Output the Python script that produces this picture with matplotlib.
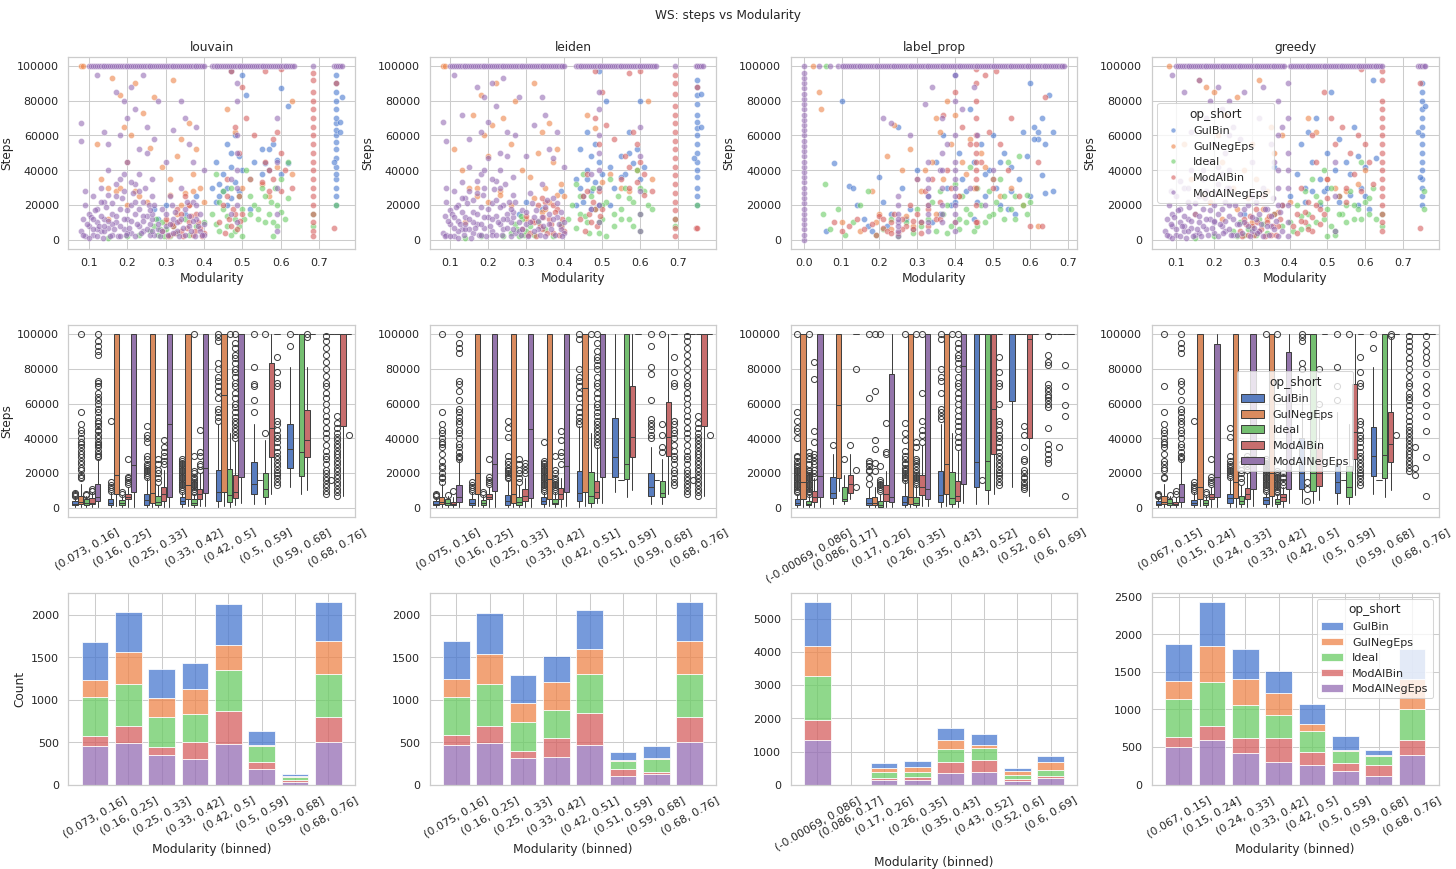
import numpy as np
import matplotlib
matplotlib.use("Agg")
import matplotlib.pyplot as plt
import seaborn as sns
from matplotlib.patches import Patch
from matplotlib.lines import Line2D

ops = ["GulBin", "GulNegEps", "Ideal", "ModAlBin", "ModAlNegEps"]
algos = ["louvain", "leiden", "label_prop", "greedy"]
STEP_CAP = 100  # thousands of steps

# ---------------- row 1: scatter points (x = modularity, y = steps / 1000)
louvain_pts = {
    "GulBin": [(0.42, 30), (0.43, 45), (0.44, 25), (0.45, 38), (0.46, 55), (0.46, 20), (0.47, 50), (0.47, 42),
               (0.48, 33), (0.48, 60), (0.49, 48), (0.49, 28), (0.50, 40), (0.51, 83), (0.52, 35), (0.53, 45),
               (0.55, 52), (0.56, 44), (0.57, 40), (0.58, 55), (0.59, 46), (0.60, 38), (0.60, 87), (0.62, 77),
               (0.62, 44), (0.27, 18), (0.28, 12), (0.35, 15), (0.38, 25), (0.30, 20), (0.745, 20), (0.745, 25),
               (0.745, 30), (0.745, 35), (0.745, 38), (0.745, 42), (0.745, 47), (0.745, 52), (0.745, 56),
               (0.745, 60), (0.745, 63), (0.745, 67), (0.745, 70), (0.745, 75), (0.745, 80), (0.745, 85),
               (0.745, 90), (0.745, 95), (0.755, 62), (0.755, 68), (0.74, 45), (0.76, 82), (0.50, 95), (0.47, 97),
               (0.44, 32), (0.45, 28), (0.43, 22), (0.46, 30), (0.47, 24), (0.52, 18), (0.55, 38), (0.57, 52)],
    "GulNegEps": [(0.08, 100), (0.085, 100), (0.12, 55), (0.13, 35), (0.15, 30), (0.16, 93), (0.17, 28), (0.18, 83),
                  (0.19, 65), (0.20, 45), (0.21, 60), (0.22, 90), (0.23, 25), (0.24, 73), (0.26, 53), (0.27, 82),
                  (0.29, 42), (0.31, 35), (0.32, 92), (0.33, 48), (0.34, 58), (0.35, 27), (0.36, 67), (0.37, 38),
                  (0.38, 52), (0.40, 22), (0.46, 75), (0.48, 62), (0.50, 30), (0.52, 35), (0.55, 32), (0.57, 25),
                  (0.59, 42), (0.63, 38), (0.63, 80), (0.30, 10), (0.33, 15), (0.36, 20), (0.20, 20), (0.15, 12),
                  (0.18, 30), (0.22, 28), (0.25, 22), (0.31, 26), (0.34, 20), (0.37, 28), (0.39, 30)],
    "Ideal": [(0.26, 5), (0.27, 8), (0.28, 3), (0.29, 10), (0.30, 6), (0.31, 2), (0.32, 8), (0.33, 4), (0.35, 12),
              (0.36, 3), (0.38, 8), (0.40, 10), (0.42, 15), (0.43, 38), (0.44, 22), (0.45, 18), (0.46, 8),
              (0.47, 30), (0.48, 12), (0.49, 25), (0.50, 18), (0.51, 40), (0.52, 15), (0.53, 20), (0.54, 12),
              (0.55, 30), (0.56, 25), (0.57, 15), (0.58, 10), (0.59, 20), (0.60, 35), (0.61, 12), (0.62, 45),
              (0.685, 8), (0.685, 15), (0.745, 20), (0.20, 2), (0.15, 1), (0.23, 3), (0.48, 5), (0.50, 2), (0.58, 2),
              (0.275, 12), (0.285, 6), (0.295, 2), (0.43, 9), (0.44, 5), (0.45, 28), (0.46, 14), (0.47, 3),
              (0.49, 8), (0.505, 12), (0.52, 25), (0.54, 18), (0.56, 10), (0.575, 22), (0.59, 8), (0.60, 16),
              (0.62, 24), (0.585, 30)],
    "ModAlBin": [(0.29, 5), (0.30, 12), (0.31, 3), (0.32, 8), (0.33, 18), (0.34, 5), (0.35, 25), (0.36, 10),
                 (0.37, 3), (0.38, 15), (0.39, 7), (0.40, 4), (0.44, 10), (0.45, 20), (0.46, 35), (0.47, 8),
                 (0.48, 65), (0.48, 15), (0.49, 50), (0.49, 25), (0.50, 88), (0.51, 70), (0.53, 60), (0.55, 33),
                 (0.56, 45), (0.57, 28), (0.58, 58), (0.59, 62), (0.60, 50), (0.61, 40), (0.63, 30), (0.685, 5),
                 (0.685, 10), (0.685, 15), (0.685, 20), (0.685, 25), (0.685, 30), (0.685, 35), (0.685, 40),
                 (0.685, 45), (0.685, 50), (0.685, 55), (0.685, 60), (0.685, 65), (0.685, 70), (0.685, 75),
                 (0.685, 80), (0.685, 92), (0.685, 96), (0.74, 7), (0.745, 90), (0.60, 98), (0.56, 97), (0.47, 97),
                 (0.305, 2), (0.315, 9), (0.325, 4), (0.335, 11), (0.345, 2), (0.355, 7), (0.365, 14), (0.375, 5),
                 (0.385, 10), (0.395, 2), (0.34, 15), (0.36, 20), (0.455, 4), (0.465, 12), (0.475, 18),
                 (0.485, 6), (0.495, 11), (0.46, 25), (0.50, 15), (0.57, 40), (0.58, 35), (0.60, 28),
                 (0.685, 85), (0.685, 2)],
    "ModAlNegEps": [(0.08, 5), (0.085, 12), (0.09, 2), (0.09, 20), (0.10, 8), (0.10, 15), (0.11, 3), (0.11, 25),
                    (0.12, 10), (0.12, 18), (0.13, 5), (0.13, 30), (0.14, 12), (0.14, 22), (0.15, 7), (0.15, 40),
                    (0.16, 15), (0.16, 3), (0.17, 25), (0.17, 10), (0.18, 35), (0.18, 18), (0.19, 6), (0.19, 28),
                    (0.20, 12), (0.20, 45), (0.21, 20), (0.21, 4), (0.22, 32), (0.22, 15), (0.23, 8), (0.23, 38),
                    (0.24, 22), (0.24, 5), (0.25, 14), (0.25, 50), (0.26, 9), (0.27, 3), (0.29, 18), (0.30, 8),
                    (0.31, 25), (0.32, 12), (0.33, 5), (0.34, 30), (0.35, 18), (0.36, 8), (0.37, 22), (0.38, 12),
                    (0.39, 5), (0.40, 3), (0.08, 67), (0.08, 57), (0.12, 95), (0.14, 62), (0.15, 55), (0.17, 85),
                    (0.18, 60), (0.19, 80), (0.20, 70), (0.21, 88), (0.22, 75), (0.23, 52), (0.24, 95), (0.25, 65),
                    (0.27, 58), (0.28, 80), (0.30, 45), (0.32, 63), (0.34, 80), (0.35, 70), (0.36, 55), (0.37, 45),
                    (0.38, 65), (0.40, 40), (0.485, 10), (0.485, 20), (0.485, 30), (0.485, 40), (0.485, 50),
                    (0.485, 60), (0.485, 80), (0.485, 90), (0.47, 15), (0.47, 35), (0.59, 5), (0.59, 15),
                    (0.59, 30), (0.59, 45), (0.59, 70), (0.12, 6), (0.16, 9), (0.2, 4), (0.24, 14), (0.28, 6),
                    (0.085, 3), (0.095, 9), (0.10, 1), (0.105, 13), (0.11, 6), (0.115, 17), (0.12, 2), (0.125, 8),
                    (0.13, 14), (0.135, 1), (0.14, 5), (0.145, 19), (0.15, 11), (0.155, 2), (0.16, 21), (0.165, 6),
                    (0.17, 14), (0.175, 2), (0.18, 8), (0.185, 24), (0.19, 12), (0.195, 3), (0.20, 17), (0.205, 7),
                    (0.21, 11), (0.215, 27), (0.22, 2), (0.225, 9), (0.23, 18), (0.235, 4), (0.24, 11), (0.245, 30),
                    (0.25, 6), (0.255, 20), (0.26, 3), (0.265, 12), (0.28, 9), (0.285, 2), (0.29, 5), (0.30, 15),
                    (0.305, 3), (0.31, 9), (0.315, 20), (0.32, 4), (0.325, 16), (0.33, 10), (0.335, 2), (0.34, 12),
                    (0.345, 7), (0.35, 3), (0.355, 22), (0.36, 14), (0.365, 5), (0.37, 11), (0.375, 2), (0.38, 20),
                    (0.385, 8), (0.39, 15), (0.395, 3), (0.40, 9), (0.09, 28), (0.13, 22), (0.17, 32), (0.19, 38),
                    (0.21, 33), (0.23, 28), (0.15, 26), (0.27, 20), (0.265, 5), (0.265, 15), (0.265, 25),
                    (0.265, 35), (0.11, 12), (0.14, 8), (0.18, 2), (0.22, 22), (0.26, 17)],
}
louvain_cap = [0.100, 0.105, 0.110, 0.115, 0.120, 0.125, 0.130, 0.135, 0.140, 0.145, 0.150, 0.155, 0.160, 0.165,
               0.170, 0.175, 0.180, 0.185, 0.190, 0.195, 0.200, 0.205, 0.210, 0.215, 0.220, 0.225, 0.230, 0.235,
               0.240, 0.245, 0.250, 0.255, 0.260, 0.265, 0.270, 0.275, 0.280, 0.285, 0.290, 0.295, 0.300, 0.305,
               0.310, 0.315, 0.320, 0.325, 0.330, 0.335, 0.340, 0.345, 0.350, 0.355, 0.360, 0.365, 0.370, 0.375,
               0.380, 0.385, 0.390, 0.395, 0.400, 0.420, 0.425, 0.430, 0.435, 0.440, 0.445, 0.450, 0.455, 0.460,
               0.465, 0.470, 0.475, 0.480, 0.485, 0.490, 0.495, 0.500, 0.505, 0.510, 0.515, 0.520, 0.525, 0.530,
               0.535, 0.540, 0.545, 0.550, 0.555, 0.560, 0.565, 0.570, 0.575, 0.580, 0.585, 0.590, 0.595, 0.600,
               0.605, 0.610, 0.615, 0.620, 0.625, 0.630, 0.635, 0.685, 0.740, 0.745, 0.750, 0.755, 0.760]

leiden_pts = {
    "GulBin": [(0.43, 35), (0.44, 52), (0.45, 25), (0.46, 40), (0.46, 62), (0.47, 28), (0.47, 48), (0.48, 55),
               (0.48, 33), (0.49, 45), (0.49, 20), (0.50, 38), (0.51, 80), (0.52, 42), (0.53, 30), (0.55, 48),
               (0.56, 38), (0.57, 62), (0.58, 44), (0.59, 52), (0.60, 35), (0.60, 80), (0.61, 42), (0.28, 15),
               (0.30, 22), (0.34, 18), (0.39, 28), (0.75, 20), (0.75, 25), (0.75, 30), (0.75, 36), (0.75, 40),
               (0.75, 45), (0.75, 50), (0.75, 55), (0.75, 60), (0.75, 64), (0.75, 68), (0.75, 72), (0.75, 78),
               (0.75, 83), (0.75, 88), (0.75, 92), (0.76, 65), (0.74, 47), (0.76, 84), (0.49, 97),
               (0.44, 30), (0.45, 22), (0.46, 35), (0.47, 18), (0.52, 20), (0.55, 36), (0.57, 50), (0.43, 20)],
    "GulNegEps": [(0.08, 100), (0.085, 100), (0.11, 52), (0.13, 40), (0.15, 30), (0.16, 72), (0.17, 25), (0.18, 83),
                  (0.19, 60), (0.20, 48), (0.21, 66), (0.22, 90), (0.23, 28), (0.24, 70), (0.26, 55), (0.27, 80),
                  (0.29, 40), (0.31, 36), (0.32, 90), (0.33, 50), (0.34, 62), (0.35, 30), (0.36, 67), (0.37, 45),
                  (0.38, 52), (0.40, 25), (0.46, 72), (0.48, 64), (0.50, 33), (0.52, 38), (0.55, 30), (0.57, 28),
                  (0.59, 40), (0.63, 35), (0.62, 80), (0.30, 12), (0.34, 16), (0.36, 22), (0.20, 22), (0.14, 10),
                  (0.17, 30), (0.23, 26), (0.26, 20), (0.32, 24), (0.35, 18), (0.38, 26), (0.39, 32)],
    "Ideal": [(0.26, 4), (0.27, 9), (0.28, 2), (0.29, 12), (0.30, 5), (0.31, 8), (0.32, 3), (0.33, 10), (0.35, 6),
              (0.37, 2), (0.39, 9), (0.41, 12), (0.42, 20), (0.43, 32), (0.44, 15), (0.45, 38), (0.46, 10),
              (0.47, 25), (0.48, 18), (0.49, 30), (0.50, 12), (0.51, 22), (0.52, 35), (0.53, 15), (0.54, 25),
              (0.55, 18), (0.56, 30), (0.57, 12), (0.58, 22), (0.59, 40), (0.60, 15), (0.61, 28), (0.62, 20),
              (0.69, 8), (0.69, 12), (0.75, 20), (0.18, 2), (0.14, 1), (0.24, 2), (0.49, 4), (0.51, 2), (0.60, 5),
              (0.275, 6), (0.285, 14), (0.295, 3), (0.43, 7), (0.44, 25), (0.455, 14), (0.465, 4), (0.475, 30),
              (0.49, 10), (0.50, 20), (0.53, 8), (0.55, 12), (0.57, 24), (0.58, 8), (0.60, 30), (0.63, 18)],
    "ModAlBin": [(0.29, 6), (0.30, 14), (0.31, 4), (0.32, 10), (0.33, 20), (0.34, 6), (0.35, 22), (0.36, 12),
                 (0.37, 4), (0.38, 18), (0.39, 8), (0.40, 5), (0.44, 12), (0.45, 25), (0.46, 38), (0.47, 10),
                 (0.48, 70), (0.48, 18), (0.49, 55), (0.49, 28), (0.50, 85), (0.51, 66), (0.53, 58), (0.55, 35),
                 (0.56, 48), (0.57, 30), (0.58, 62), (0.59, 55), (0.60, 45), (0.61, 38), (0.63, 28), (0.69, 7),
                 (0.69, 12), (0.69, 17), (0.69, 22), (0.69, 27), (0.69, 32), (0.69, 37), (0.69, 42), (0.69, 47),
                 (0.69, 52), (0.69, 57), (0.69, 62), (0.69, 67), (0.69, 72), (0.69, 77), (0.69, 90), (0.69, 95),
                 (0.745, 7), (0.75, 7), (0.75, 88), (0.60, 97), (0.57, 96), (0.48, 97),
                 (0.305, 3), (0.315, 11), (0.325, 2), (0.335, 8), (0.345, 13), (0.355, 4), (0.365, 9), (0.375, 16),
                 (0.385, 3), (0.395, 12), (0.34, 24), (0.37, 20), (0.455, 5), (0.465, 15), (0.475, 22),
                 (0.485, 8), (0.495, 14), (0.46, 28), (0.50, 18), (0.57, 42), (0.59, 33), (0.61, 26),
                 (0.69, 84), (0.69, 2)],
    "ModAlNegEps": [(0.08, 4), (0.085, 14), (0.09, 3), (0.09, 22), (0.10, 9), (0.10, 17), (0.11, 2), (0.11, 28),
                    (0.12, 11), (0.12, 20), (0.13, 6), (0.13, 33), (0.14, 13), (0.14, 24), (0.15, 6), (0.15, 42),
                    (0.16, 16), (0.16, 4), (0.17, 27), (0.17, 9), (0.18, 38), (0.18, 19), (0.19, 7), (0.19, 30),
                    (0.20, 13), (0.20, 47), (0.21, 21), (0.21, 5), (0.22, 34), (0.22, 14), (0.23, 9), (0.23, 40),
                    (0.24, 20), (0.24, 6), (0.25, 15), (0.25, 48), (0.26, 10), (0.27, 4), (0.29, 17), (0.30, 9),
                    (0.31, 27), (0.32, 13), (0.33, 6), (0.34, 32), (0.35, 19), (0.36, 9), (0.37, 24), (0.38, 13),
                    (0.39, 6), (0.40, 4), (0.08, 68), (0.09, 57), (0.11, 95), (0.13, 72), (0.15, 58), (0.17, 88),
                    (0.18, 62), (0.19, 82), (0.20, 68), (0.21, 90), (0.22, 77), (0.23, 50), (0.24, 93), (0.25, 62),
                    (0.27, 60), (0.28, 82), (0.30, 48), (0.32, 66), (0.34, 82), (0.35, 72), (0.36, 52), (0.37, 47),
                    (0.38, 62), (0.40, 42), (0.49, 10), (0.49, 20), (0.49, 30), (0.49, 40), (0.49, 50), (0.49, 60),
                    (0.49, 75), (0.49, 85), (0.47, 18), (0.47, 38), (0.60, 5), (0.60, 15), (0.60, 28), (0.60, 48),
                    (0.60, 65), (0.12, 5), (0.16, 10), (0.21, 3), (0.25, 12), (0.28, 5),
                    (0.085, 2), (0.095, 11), (0.10, 2), (0.105, 15), (0.11, 7), (0.115, 19), (0.12, 1), (0.125, 9),
                    (0.13, 16), (0.135, 3), (0.14, 6), (0.145, 21), (0.15, 12), (0.155, 1), (0.16, 23), (0.165, 7),
                    (0.17, 15), (0.175, 3), (0.18, 9), (0.185, 26), (0.19, 13), (0.195, 2), (0.20, 18), (0.205, 8),
                    (0.21, 12), (0.215, 29), (0.22, 3), (0.225, 10), (0.23, 19), (0.235, 3), (0.24, 12), (0.245, 32),
                    (0.25, 7), (0.255, 22), (0.26, 2), (0.265, 13), (0.28, 10), (0.285, 3), (0.29, 6), (0.30, 16),
                    (0.305, 2), (0.31, 10), (0.315, 21), (0.32, 5), (0.325, 17), (0.33, 11), (0.335, 3), (0.34, 13),
                    (0.345, 8), (0.35, 2), (0.355, 23), (0.36, 15), (0.365, 6), (0.37, 12), (0.375, 3), (0.38, 21),
                    (0.385, 9), (0.39, 16), (0.395, 2), (0.40, 10), (0.09, 30), (0.13, 24), (0.17, 34), (0.19, 40),
                    (0.21, 35), (0.23, 30), (0.15, 28), (0.27, 22), (0.265, 6), (0.265, 16), (0.265, 26),
                    (0.265, 36), (0.11, 13), (0.14, 9), (0.18, 3), (0.22, 23), (0.26, 18)],
}
leiden_cap = [0.100, 0.105, 0.110, 0.115, 0.120, 0.125, 0.130, 0.135, 0.140, 0.145, 0.150, 0.155, 0.160, 0.165,
              0.170, 0.175, 0.180, 0.185, 0.190, 0.195, 0.200, 0.205, 0.210, 0.215, 0.220, 0.225, 0.230, 0.235,
              0.240, 0.245, 0.250, 0.255, 0.260, 0.265, 0.270, 0.275, 0.280, 0.285, 0.290, 0.295, 0.300, 0.305,
              0.310, 0.315, 0.320, 0.325, 0.330, 0.335, 0.340, 0.345, 0.350, 0.355, 0.360, 0.365, 0.370, 0.375,
              0.380, 0.385, 0.390, 0.395, 0.400, 0.430, 0.435, 0.440, 0.445, 0.450, 0.455, 0.460, 0.465, 0.470,
              0.475, 0.480, 0.485, 0.490, 0.495, 0.500, 0.505, 0.510, 0.515, 0.520, 0.525, 0.530, 0.535, 0.540,
              0.545, 0.550, 0.555, 0.560, 0.565, 0.570, 0.575, 0.580, 0.585, 0.590, 0.595, 0.600, 0.605, 0.610,
              0.615, 0.620, 0.625, 0.630, 0.635, 0.640, 0.690, 0.745, 0.750, 0.755, 0.760, 0.765]

label_prop_pts = {
    "GulBin": [(0.06, 5), (0.08, 44), (0.10, 80), (0.12, 31), (0.14, 20), (0.16, 12), (0.18, 5), (0.20, 36),
               (0.22, 8), (0.23, 15), (0.25, 65), (0.26, 30), (0.28, 18), (0.30, 40), (0.31, 10), (0.33, 25),
               (0.35, 45), (0.36, 15), (0.37, 60), (0.38, 30), (0.39, 20), (0.40, 95), (0.41, 50), (0.42, 35),
               (0.43, 28), (0.44, 75), (0.45, 45), (0.46, 22), (0.47, 55), (0.48, 38), (0.49, 40), (0.50, 60),
               (0.51, 30), (0.52, 45), (0.53, 50), (0.54, 18), (0.55, 42), (0.56, 15), (0.57, 35), (0.58, 62),
               (0.59, 48), (0.60, 90), (0.61, 65), (0.62, 58), (0.63, 70), (0.64, 55), (0.65, 83), (0.66, 62),
               (0.64, 27), (0.60, 25), (0.63, 37), (0.66, 28), (0.62, 62), (0.61, 58),
               (0.13, 30), (0.17, 8), (0.21, 22), (0.27, 12), (0.29, 6), (0.34, 10), (0.40, 22), (0.45, 12),
               (0.48, 25), (0.50, 35), (0.52, 20), (0.55, 28)],
    "GulNegEps": [(0.04, 85), (0.045, 75), (0.10, 10), (0.15, 5), (0.18, 28), (0.20, 15), (0.22, 48), (0.24, 66),
                  (0.26, 40), (0.28, 52), (0.30, 35), (0.31, 28), (0.32, 40), (0.33, 20), (0.34, 45), (0.35, 70),
                  (0.36, 62), (0.37, 35), (0.38, 80), (0.39, 55), (0.40, 72), (0.41, 25), (0.42, 45), (0.43, 38),
                  (0.44, 58), (0.45, 30), (0.47, 50), (0.48, 42), (0.50, 35), (0.52, 25), (0.55, 30), (0.58, 20),
                  (0.62, 8), (0.025, 100), (0.35, 15), (0.40, 10), (0.19, 10), (0.23, 6), (0.27, 14), (0.29, 8)],
    "Ideal": [(0.05, 15), (0.055, 32), (0.07, 6), (0.09, 18), (0.11, 3), (0.13, 10), (0.15, 20), (0.17, 28),
              (0.19, 3), (0.21, 6), (0.23, 12), (0.25, 2), (0.27, 10), (0.29, 4), (0.30, 18), (0.31, 8), (0.33, 12),
              (0.34, 22), (0.35, 5), (0.36, 28), (0.37, 15), (0.38, 20), (0.39, 8), (0.40, 32), (0.41, 12),
              (0.42, 25), (0.43, 18), (0.44, 42), (0.45, 5), (0.46, 30), (0.47, 20), (0.48, 10), (0.49, 28),
              (0.50, 15), (0.51, 22), (0.52, 35), (0.53, 12), (0.54, 45), (0.55, 18), (0.56, 25), (0.57, 48),
              (0.58, 20), (0.59, 15), (0.60, 22), (0.06, 100), (0.38, 4), (0.41, 6), (0.43, 10), (0.44, 15),
              (0.46, 8), (0.49, 14), (0.52, 18), (0.53, 25), (0.56, 12), (0.59, 26)],
    "ModAlBin": [(0.08, 10), (0.10, 5), (0.12, 8), (0.14, 12), (0.16, 6), (0.18, 9), (0.19, 3), (0.20, 14),
                 (0.21, 7), (0.22, 5), (0.23, 10), (0.24, 15), (0.25, 4), (0.26, 12), (0.27, 8), (0.28, 20),
                 (0.29, 6), (0.30, 15), (0.31, 10), (0.32, 28), (0.33, 18), (0.34, 35), (0.35, 12), (0.36, 22),
                 (0.37, 72), (0.38, 40), (0.39, 30), (0.40, 85), (0.41, 25), (0.42, 65), (0.44, 55), (0.455, 20),
                 (0.455, 30), (0.455, 40), (0.455, 50), (0.455, 60), (0.455, 70), (0.455, 80), (0.455, 90),
                 (0.455, 98), (0.46, 10), (0.47, 45), (0.48, 95), (0.49, 62), (0.50, 30), (0.52, 55), (0.54, 40),
                 (0.55, 70), (0.57, 25), (0.60, 8), (0.63, 8), (0.62, 45), (0.64, 82), (0.51, 97),
                 (0.21, 12), (0.23, 4), (0.26, 6), (0.29, 11), (0.31, 4), (0.33, 8), (0.36, 12), (0.455, 10),
                 (0.455, 35), (0.455, 45), (0.455, 55)],
    "ModAlNegEps": [(0.0, 0), (0.0, 3), (0.0, 6), (0.0, 9), (0.0, 12), (0.0, 15), (0.0, 18), (0.0, 21), (0.0, 24),
                    (0.0, 27), (0.0, 30), (0.0, 33), (0.0, 36), (0.0, 39), (0.0, 42), (0.0, 45), (0.0, 48),
                    (0.0, 51), (0.0, 54), (0.0, 57), (0.0, 60), (0.0, 63), (0.0, 66), (0.0, 69), (0.0, 72),
                    (0.0, 75), (0.0, 78), (0.0, 81), (0.0, 84), (0.0, 87), (0.0, 90), (0.0, 93), (0.0, 96),
                    (0.21, 70), (0.23, 67), (0.25, 2), (0.25, 5), (0.25, 10), (0.25, 15), (0.25, 20), (0.25, 25),
                    (0.28, 60), (0.30, 35), (0.32, 78), (0.33, 5), (0.33, 15), (0.33, 25), (0.33, 35), (0.33, 45),
                    (0.34, 88), (0.36, 40), (0.365, 10), (0.365, 20), (0.365, 30), (0.365, 50), (0.365, 70),
                    (0.38, 55), (0.40, 5), (0.40, 15), (0.40, 25), (0.40, 35), (0.40, 45), (0.40, 60), (0.40, 80),
                    (0.40, 95), (0.42, 75), (0.44, 30), (0.45, 88), (0.46, 60), (0.48, 20), (0.50, 40),
                    (0.25, 8), (0.25, 12), (0.33, 10), (0.33, 20), (0.33, 30), (0.365, 15), (0.365, 40),
                    (0.40, 10), (0.40, 20), (0.40, 30), (0.40, 40)],
}
label_prop_cap = [0.000, 0.040, 0.070, 0.090, 0.100, 0.105, 0.110, 0.115, 0.120, 0.125, 0.130, 0.135, 0.140, 0.145,
                  0.150, 0.155, 0.160, 0.165, 0.170, 0.175, 0.180, 0.185, 0.190, 0.195, 0.200, 0.205, 0.210, 0.215,
                  0.220, 0.225, 0.230, 0.235, 0.240, 0.245, 0.250, 0.255, 0.260, 0.265, 0.270, 0.275, 0.280, 0.285,
                  0.290, 0.295, 0.300, 0.305, 0.310, 0.315, 0.320, 0.325, 0.330, 0.335, 0.340, 0.345, 0.350, 0.355,
                  0.360, 0.365, 0.370, 0.375, 0.380, 0.385, 0.390, 0.395, 0.400, 0.405, 0.410, 0.415, 0.420, 0.425,
                  0.430, 0.435, 0.440, 0.445, 0.450, 0.455, 0.460, 0.465, 0.470, 0.475, 0.480, 0.485, 0.490, 0.495,
                  0.500, 0.505, 0.510, 0.515, 0.520, 0.525, 0.530, 0.535, 0.540, 0.545, 0.550, 0.555, 0.560, 0.565,
                  0.570, 0.575, 0.580, 0.585, 0.590, 0.595, 0.600, 0.605, 0.610, 0.615, 0.620, 0.625, 0.630, 0.635,
                  0.640, 0.645, 0.650, 0.655, 0.660, 0.665, 0.670, 0.675, 0.680, 0.685, 0.690]

greedy_pts = {
    "GulBin": [(0.40, 25), (0.42, 38), (0.43, 55), (0.44, 30), (0.45, 62), (0.46, 45), (0.47, 70), (0.48, 35),
               (0.49, 28), (0.50, 50), (0.51, 85), (0.52, 40), (0.53, 58), (0.55, 45), (0.56, 38), (0.57, 65),
               (0.58, 48), (0.59, 30), (0.60, 42), (0.61, 18), (0.62, 92), (0.63, 47), (0.36, 42), (0.38, 20),
               (0.28, 15), (0.75, 20), (0.75, 25), (0.75, 30), (0.75, 35), (0.75, 40), (0.75, 45), (0.75, 50),
               (0.75, 55), (0.75, 60), (0.75, 65), (0.75, 70), (0.75, 75), (0.75, 80), (0.75, 85), (0.75, 90),
               (0.76, 77), (0.74, 62), (0.745, 36), (0.44, 22), (0.46, 28), (0.48, 20), (0.50, 30), (0.53, 22),
               (0.56, 26), (0.58, 20), (0.60, 25)],
    "GulNegEps": [(0.08, 100), (0.12, 55), (0.14, 35), (0.16, 92), (0.17, 25), (0.18, 88), (0.20, 85), (0.21, 60),
                  (0.22, 45), (0.23, 72), (0.25, 30), (0.26, 82), (0.28, 40), (0.30, 55), (0.31, 35), (0.32, 92),
                  (0.34, 28), (0.35, 65), (0.36, 50), (0.38, 60), (0.40, 22), (0.45, 70), (0.47, 62), (0.50, 35),
                  (0.52, 30), (0.55, 28), (0.58, 32), (0.60, 40), (0.15, 15), (0.22, 12), (0.33, 18), (0.30, 10),
                  (0.19, 22), (0.26, 18), (0.29, 24), (0.34, 12), (0.37, 16)],
    "Ideal": [(0.25, 5), (0.27, 10), (0.28, 3), (0.30, 7), (0.32, 12), (0.34, 4), (0.36, 15), (0.38, 8), (0.40, 10),
              (0.42, 20), (0.43, 6), (0.44, 28), (0.45, 15), (0.46, 35), (0.47, 10), (0.48, 22), (0.49, 40),
              (0.50, 18), (0.51, 30), (0.52, 5), (0.53, 25), (0.54, 15), (0.55, 20), (0.56, 28), (0.57, 12),
              (0.58, 18), (0.59, 45), (0.60, 22), (0.61, 15), (0.62, 30), (0.645, 8), (0.645, 15), (0.755, 18),
              (0.755, 28), (0.15, 1), (0.20, 2), (0.50, 2), (0.52, 3), (0.41, 5), (0.43, 14), (0.45, 8),
              (0.47, 25), (0.49, 12), (0.51, 8), (0.53, 15), (0.55, 10), (0.57, 20), (0.59, 12), (0.61, 24),
              (0.63, 12), (0.26, 2), (0.29, 6), (0.31, 3), (0.33, 9)],
    "ModAlBin": [(0.27, 5), (0.28, 12), (0.29, 3), (0.30, 8), (0.31, 18), (0.32, 5), (0.33, 25), (0.34, 10),
                 (0.35, 3), (0.36, 15), (0.37, 8), (0.38, 20), (0.41, 8), (0.42, 15), (0.43, 30), (0.44, 10),
                 (0.45, 22), (0.46, 60), (0.46, 5), (0.47, 45), (0.48, 18), (0.49, 85), (0.50, 35), (0.51, 70),
                 (0.52, 55), (0.53, 25), (0.54, 65), (0.55, 30), (0.56, 50), (0.57, 38), (0.58, 60), (0.59, 28),
                 (0.60, 55), (0.61, 45), (0.62, 32), (0.645, 5), (0.645, 10), (0.645, 15), (0.645, 20),
                 (0.645, 25), (0.645, 30), (0.645, 35), (0.645, 40), (0.645, 45), (0.645, 50), (0.645, 55),
                 (0.645, 60), (0.645, 65), (0.645, 70), (0.645, 75), (0.645, 80), (0.645, 92), (0.645, 97),
                 (0.745, 7), (0.745, 90), (0.59, 98), (0.275, 2), (0.285, 9), (0.295, 14), (0.305, 3), (0.315, 10),
                 (0.325, 6), (0.335, 2), (0.345, 14), (0.355, 8), (0.365, 3), (0.375, 12), (0.42, 4), (0.43, 11),
                 (0.44, 16), (0.45, 6), (0.46, 13), (0.47, 20), (0.48, 9), (0.49, 15), (0.50, 24), (0.55, 22)],
    "ModAlNegEps": [(0.07, 5), (0.075, 12), (0.08, 2), (0.08, 20), (0.09, 8), (0.09, 15), (0.10, 3), (0.10, 25),
                    (0.11, 10), (0.11, 18), (0.12, 5), (0.12, 30), (0.13, 12), (0.13, 22), (0.14, 7), (0.14, 40),
                    (0.15, 15), (0.15, 3), (0.16, 25), (0.16, 10), (0.17, 35), (0.17, 18), (0.18, 6), (0.18, 28),
                    (0.19, 12), (0.19, 45), (0.20, 20), (0.20, 4), (0.21, 32), (0.21, 15), (0.22, 8), (0.22, 38),
                    (0.23, 22), (0.23, 5), (0.24, 14), (0.24, 40), (0.24, 60), (0.24, 80), (0.26, 9), (0.28, 18),
                    (0.29, 8), (0.30, 25), (0.31, 12), (0.32, 5), (0.33, 30), (0.34, 18), (0.35, 8), (0.37, 20),
                    (0.37, 40), (0.37, 60), (0.37, 80), (0.395, 10), (0.395, 30), (0.395, 50), (0.395, 70),
                    (0.395, 90), (0.09, 95), (0.12, 85), (0.14, 62), (0.16, 92), (0.18, 70), (0.19, 80),
                    (0.20, 55), (0.21, 88), (0.22, 75), (0.23, 50), (0.25, 65), (0.27, 58), (0.28, 85), (0.30, 45),
                    (0.32, 70), (0.33, 88), (0.35, 55), (0.36, 45), (0.38, 65), (0.52, 5), (0.52, 25), (0.52, 45),
                    (0.12, 8), (0.16, 4), (0.2, 10), (0.25, 3), (0.3, 5),
                    (0.075, 3), (0.085, 9), (0.09, 1), (0.095, 13), (0.10, 6), (0.105, 17), (0.11, 2), (0.115, 8),
                    (0.12, 14), (0.125, 1), (0.13, 5), (0.135, 19), (0.14, 11), (0.145, 2), (0.15, 21), (0.155, 6),
                    (0.16, 14), (0.165, 2), (0.17, 8), (0.175, 24), (0.18, 12), (0.185, 3), (0.19, 17), (0.195, 7),
                    (0.20, 11), (0.205, 27), (0.21, 2), (0.215, 9), (0.22, 18), (0.225, 4), (0.23, 11), (0.235, 30),
                    (0.24, 6), (0.24, 20), (0.24, 30), (0.245, 3), (0.25, 12), (0.255, 20), (0.26, 3), (0.265, 9),
                    (0.27, 15), (0.275, 4), (0.28, 10), (0.29, 20), (0.295, 2), (0.30, 13), (0.305, 7), (0.31, 22),
                    (0.315, 4), (0.32, 15), (0.325, 9), (0.33, 2), (0.335, 18), (0.34, 8), (0.345, 3), (0.35, 14),
                    (0.355, 24), (0.36, 6), (0.365, 11), (0.37, 2), (0.37, 30), (0.375, 16), (0.38, 5), (0.395, 2),
                    (0.395, 20), (0.395, 40), (0.085, 28), (0.11, 34), (0.13, 30), (0.17, 40), (0.21, 42)],
}
greedy_cap = [0.100, 0.105, 0.110, 0.115, 0.120, 0.125, 0.130, 0.135, 0.140, 0.145, 0.150, 0.155, 0.160, 0.165,
              0.170, 0.175, 0.180, 0.185, 0.190, 0.195, 0.200, 0.205, 0.210, 0.215, 0.220, 0.225, 0.230, 0.235,
              0.240, 0.245, 0.250, 0.255, 0.260, 0.265, 0.270, 0.275, 0.280, 0.285, 0.290, 0.295, 0.300, 0.305,
              0.310, 0.315, 0.320, 0.325, 0.330, 0.335, 0.340, 0.345, 0.350, 0.355, 0.360, 0.365, 0.370, 0.375,
              0.380, 0.385, 0.400, 0.405, 0.410, 0.415, 0.420, 0.425, 0.430, 0.435, 0.440, 0.445, 0.450, 0.455,
              0.460, 0.465, 0.470, 0.475, 0.480, 0.485, 0.490, 0.495, 0.500, 0.505, 0.510, 0.515, 0.520, 0.525,
              0.530, 0.535, 0.540, 0.545, 0.550, 0.555, 0.560, 0.565, 0.570, 0.575, 0.580, 0.585, 0.590, 0.595,
              0.600, 0.605, 0.610, 0.615, 0.620, 0.625, 0.630, 0.635, 0.640, 0.645, 0.740, 0.745, 0.750, 0.755,
              0.760]

# ---------------- row 2 / row 3: bin labels
louvain_bins = ["(0.073, 0.16]", "(0.16, 0.25]", "(0.25, 0.33]", "(0.33, 0.42]",
                "(0.42, 0.5]", "(0.5, 0.59]", "(0.59, 0.68]", "(0.68, 0.76]"]
leiden_bins = ["(0.075, 0.16]", "(0.16, 0.25]", "(0.25, 0.33]", "(0.33, 0.42]",
               "(0.42, 0.51]", "(0.51, 0.59]", "(0.59, 0.68]", "(0.68, 0.76]"]
label_prop_bins = ["(-0.00069, 0.086]", "(0.086, 0.17]", "(0.17, 0.26]", "(0.26, 0.35]",
                   "(0.35, 0.43]", "(0.43, 0.52]", "(0.52, 0.6]", "(0.6, 0.69]"]
greedy_bins = ["(0.067, 0.15]", "(0.15, 0.24]", "(0.24, 0.33]", "(0.33, 0.42]",
               "(0.42, 0.5]", "(0.5, 0.59]", "(0.59, 0.68]", "(0.68, 0.76]"]

# ---------------- row 2: box summaries (whislo, q1, median, q3, whishi, fliers), thousands of steps
louvain_box = {
    "GulBin": [(0.5, 1.5, 2.5, 4, 6.5, [7, 7.5, 8, 8.5]),
               (0.5, 1.5, 3, 5, 9, [10, 11, 12, 13, 15, 50]),
               (0.5, 1.5, 4.5, 8, 17, [18, 19, 20, 21, 22, 23, 24, 25, 28, 30, 38, 40, 42, 47]),
               (0.5, 2, 4, 6, 9, [10, 11, 12, 13, 14, 15, 16, 17, 18, 19, 20, 21, 22, 23, 24, 25, 26, 27, 28]),
               (0.5, 4, 9, 22, 48, [50, 52, 55, 57, 63, 67, 70, 73, 75, 80, 83, 96, 98, 100]),
               (2.5, 8, 14, 26.5, 48, [55, 62, 70, 71, 81, 100]),
               (12, 23, 34, 48, 81, [93, 100]),
               (100, 100, 100, 100, 100, [8, 10, 12, 14, 16, 18, 20, 22, 25, 28, 30, 33, 36, 40, 43, 46, 50, 53,
                                          56, 60, 63, 66, 70, 72, 76, 80, 84, 88, 92, 96, 99])],
    "GulNegEps": [(0.5, 2.3, 3.5, 7, 14, [17, 18, 19, 22, 23, 25, 27, 29, 31, 33, 35, 37, 38, 40, 43, 45, 48, 55, 100]),
                  (1, 8, 19, 100, 100, []),
                  (0.5, 3, 8.5, 100, 100, []),
                  (1, 5, 13, 100, 100, []),
                  (1, 9, 65, 100, 100, []),
                  (16, 16, 16, 16, 16, []),
                  (100, 100, 100, 100, 100, []),
                  (100, 100, 100, 100, 100, [16])],
    "Ideal": [(0.5, 1.5, 2.8, 5, 7, [7.5, 8]),
              (0.5, 1.5, 3, 4.5, 7, [8, 9]),
              (0.5, 1.5, 3.5, 7, 13, [15, 17, 20, 22, 25, 28]),
              (0.5, 1.5, 3, 5, 8, [9, 10, 11, 12, 13, 14, 15, 16, 17, 18, 20, 21, 30, 100]),
              (0.5, 3.5, 7.5, 22.5, 43, [100]),
              (2.5, 6.5, 11, 20, 39, [43, 100]),
              (8, 18.5, 32, 100, 100, []),
              (100, 100, 100, 100, 100, [7, 9, 11, 13, 15, 17, 19, 21, 23, 25, 27, 29, 31, 33, 35, 37, 39, 41,
                                         43, 46, 49, 53])],
    "ModAlBin": [(0.5, 2, 3, 5.5, 9, [9.5, 10, 11]),
                 (0.5, 5, 6.5, 8, 12, [14, 15, 16, 17, 18, 28]),
                 (0.5, 4, 8, 12, 22, [25, 27, 30, 32, 35, 39]),
                 (1, 5, 8, 11, 20, [22, 24, 25, 30, 32, 45]),
                 (1.5, 5.5, 9, 19, 38, [40, 42, 44, 46, 48, 50, 52, 55, 58, 60, 63, 66, 70, 72, 75, 78, 80, 83,
                                        86, 88, 92, 95, 100]),
                 (8, 29, 46, 83, 100, []),
                 (10.5, 29.5, 39, 56, 81, [98, 100]),
                 (7, 47, 100, 100, 100, [])],
    "ModAlNegEps": [(0.5, 4, 6, 14, 28, [29, 30, 31, 33, 35, 36, 37, 38, 40, 42, 44, 45, 47, 49, 50, 52, 55, 57, 60,
                                         62, 64, 66, 70, 72, 73, 88, 90, 93, 96, 100]),
                    (0.5, 9, 24.5, 100, 100, []),
                    (0.5, 6.5, 48.5, 100, 100, []),
                    (1, 8.5, 23, 100, 100, []),
                    (3, 18, 100, 100, 100, []),
                    (100, 100, 100, 100, 100, [13, 15, 17, 19, 20, 22, 24, 26, 28, 30, 32, 35, 38, 40, 42, 45, 48,
                                               50, 70, 72, 78, 87]),
                    (100, 100, 100, 100, 100, []),
                    (100, 100, 100, 100, 100, [42])],
}

leiden_box = {
    "GulBin": [(0.5, 1.5, 2.5, 4, 6.5, [7, 7.5, 8]),
               (0.5, 1.5, 3, 5, 9, [10, 11, 12, 13, 15]),
               (0.5, 1.5, 4, 7.5, 16, [17, 18, 19, 20, 21, 22, 23, 25, 27, 30, 41, 46, 50]),
               (0.5, 2, 4, 6, 9, [10, 11, 12, 13, 14, 15, 16, 17, 18, 19, 20, 21, 22, 23, 24, 25, 26, 27, 38]),
               (0.5, 4, 8.5, 21.5, 47, [48, 50, 52, 55, 58, 63, 66, 70, 73, 75, 80, 97, 100]),
               (9, 18, 29, 51.5, 100, []),
               (2.5, 7, 12, 20, 35, [40, 42, 45, 47, 49, 51, 62, 77, 81, 93, 100]),
               (100, 100, 100, 100, 100, [8, 10, 12, 14, 16, 18, 20, 22, 25, 28, 30, 33, 36, 40, 43, 46, 50, 53,
                                          56, 60, 63, 66, 70, 72, 76, 80, 84, 88, 92, 96, 99])],
    "GulNegEps": [(0.5, 2.3, 3.5, 6.5, 14, [15, 17, 18, 20, 23, 24, 27, 31, 35, 37, 38, 40, 43, 45, 48, 55, 100]),
                  (1, 8, 20, 100, 100, []),
                  (0.5, 3, 8, 100, 100, []),
                  (1, 5, 16.5, 100, 100, []),
                  (1, 9, 69, 100, 100, []),
                  (16, 16, 16, 16, 16, []),
                  (16, 16, 16, 16, 16, []),
                  (100, 100, 100, 100, 100, [16])],
    "Ideal": [(0.5, 1.5, 2.8, 5, 7, [7.5]),
              (0.5, 1.5, 3, 4.5, 7, [8, 9]),
              (0.5, 1.5, 3.5, 6.5, 13, [15, 17, 20, 22, 25, 28]),
              (0.5, 2, 3, 5, 9, [10, 11, 12, 13, 14, 15, 16, 17, 20, 22, 30]),
              (0.5, 3, 7, 20.5, 43, [100]),
              (6, 16.5, 25, 100, 100, []),
              (2.5, 6, 8.5, 15.5, 28, [32, 35, 42, 48, 100]),
              (100, 100, 100, 100, 100, [7, 9, 11, 13, 15, 17, 19, 21, 23, 25, 27, 29, 31, 33, 35, 37, 39, 41,
                                         43, 46, 49, 53])],
    "ModAlBin": [(0.5, 1.5, 2.5, 3.5, 6, [10]),
                 (0.5, 5, 6.5, 8, 12, [14, 15, 16, 18, 28]),
                 (0.5, 4, 7, 11, 17, [20, 22, 24, 26]),
                 (0.5, 5, 8, 11.5, 17, [25, 30, 32, 39, 44]),
                 (3, 5.5, 9, 15.5, 35, [36, 38, 40, 42, 44, 46, 48, 50, 53, 55, 58, 60, 63, 66, 70, 72, 75, 80,
                                        82, 85, 87, 90, 95, 100]),
                 (10.5, 29, 40.5, 70, 100, []),
                 (8, 30, 41, 61, 100, []),
                 (7, 47, 100, 100, 100, [])],
    "ModAlNegEps": [(0.5, 3.5, 6, 13, 27, [28, 29, 30, 32, 35, 37, 40, 43, 45, 48, 50, 52, 55, 57, 62, 67, 71, 73,
                                           89, 92, 95, 100]),
                    (0.5, 9.5, 25, 100, 100, []),
                    (0.5, 5.5, 45.5, 100, 100, []),
                    (1, 9, 24, 100, 100, []),
                    (3, 17.5, 100, 100, 100, []),
                    (100, 100, 100, 100, 100, []),
                    (100, 100, 100, 100, 100, [13, 15, 17, 20, 22, 25, 28, 30, 33, 36, 40, 43, 45, 48, 50, 70, 72,
                                               78, 87]),
                    (100, 100, 100, 100, 100, [42])],
}

label_prop_box = {
    "GulBin": [(0.5, 1.5, 3, 5, 8, [9, 10, 11, 12, 13, 14, 15, 16, 17, 18, 19, 20, 21, 22, 23, 24, 25, 27, 29, 30,
                                    40, 44, 46, 50, 55, 100]),
               (2, 5.5, 8.5, 17.5, 31, [36]),
               (0.5, 1.5, 3, 5.5, 12, [14, 17, 21, 22, 24, 26, 27, 63, 100]),
               (0.5, 1.5, 3.5, 7, 15, [16, 17, 18, 19, 20, 21, 22, 23, 25, 26, 28, 30, 33, 39, 43, 49, 100]),
               (0.5, 3.5, 7.5, 21.5, 48, [51, 53, 55, 57, 66, 73, 75, 80, 97, 100]),
               (2.5, 12, 26.5, 100, 100, []),
               (12, 61.5, 100, 100, 100, []),
               (100, 100, 100, 100, 100, [26, 28, 31, 34, 37, 46, 58, 60, 62, 64, 65, 67, 69, 71, 82, 84, 88, 99])],
    "GulNegEps": [(0.5, 5, 15, 100, 100, []),
                  (10, 17, 59, 100, 100, []),
                  (0.5, 1.5, 3, 6.5, 12, [21, 26, 34, 39, 67, 100]),
                  (0.5, 2.5, 6, 100, 100, []),
                  (1, 8, 25, 100, 100, []),
                  (100, 100, 100, 100, 100, [16]),
                  (100, 100, 100, 100, 100, []),
                  (100, 100, 100, 100, 100, [])],
    "Ideal": [(0.5, 1.5, 2.5, 4, 7, [8, 9, 10, 11, 12, 13, 14, 15, 16, 17, 18, 19, 20, 21, 22, 25, 28, 30, 32, 100]),
              (2, 4, 5, 12, 19, [28]),
              (0.5, 0.5, 1.5, 4, 8, [10, 11, 12, 13, 14, 15, 16, 24, 100]),
              (0.5, 1.5, 3, 6, 13, [14, 15, 16, 17, 18, 19, 20, 22, 24, 26, 27, 28, 35, 38, 100]),
              (0.5, 2.5, 5.5, 20.5, 43, [100]),
              (2.5, 10.5, 27, 100, 100, []),
              (100, 100, 100, 100, 100, [11, 12, 13, 15, 17, 18, 20, 22, 27, 28, 35, 42, 47]),
              (100, 100, 100, 100, 100, [35])],
    "ModAlBin": [(0.5, 3.5, 6, 9.5, 17, [18, 20, 22, 25, 27, 29, 31, 38, 44, 74, 84]),
                 (5, 8.5, 13.5, 19, 31, [36]),
                 (0.5, 4, 8, 13, 21, [31, 32, 49]),
                 (1, 7.5, 12, 19, 36, [38, 42, 45, 50, 66, 100]),
                 (0.5, 4, 7, 15.5, 33, [35, 38, 41, 44, 47, 50, 53, 56, 60, 63, 66, 70, 72, 75, 80, 83, 86, 88,
                                        92, 95, 100]),
                 (8, 31, 57, 100, 100, []),
                 (7, 40, 97, 100, 100, []),
                 (100, 100, 100, 100, 100, [7, 53, 59, 70, 82])],
    "ModAlNegEps": [(0.5, 6.5, 18.5, 100, 100, []),
                    (100, 100, 100, 100, 100, [12, 22, 80]),
                    (0.5, 3.5, 6, 77, 100, []),
                    (1, 5, 11, 100, 100, []),
                    (3, 14, 81.5, 100, 100, []),
                    (100, 100, 100, 100, 100, [13, 15, 17, 19, 20, 22, 24, 26, 28, 30, 32, 35, 38, 40, 42, 45, 48,
                                               50, 60, 70, 72, 78, 87]),
                    (100, 100, 100, 100, 100, []),
                    (100, 100, 100, 100, 100, [])],
}

greedy_box = {
    "GulBin": [(0.5, 1.5, 2.5, 4, 6.5, [7, 7.5, 8]),
               (0.5, 1.5, 3, 4.5, 9, [10, 11, 12, 13, 15, 50]),
               (0.5, 3, 5.5, 8, 17, [18, 19, 20, 21, 22, 23, 24, 25, 27, 30, 41, 46]),
               (0.5, 2.5, 4.5, 6, 9, [10, 11, 12, 13, 14, 15, 16, 17, 18, 19, 20, 21, 22, 23, 24, 25, 26, 27, 28,
                                      100]),
               (3, 11, 20, 40, 70, [80, 83, 96, 98, 100]),
               (2.5, 8.5, 15, 25, 55, [62, 70, 81, 100]),
               (8, 18.5, 30, 46.5, 81, [92, 100]),
               (100, 100, 100, 100, 100, [21, 23, 25, 27, 29, 31, 33, 35, 37, 39, 41, 43, 45, 47, 50, 53, 56, 59,
                                          62, 64, 66, 70, 72, 76, 80, 83, 86, 90, 93, 96, 99])],
    "GulNegEps": [(0.5, 2.3, 3.5, 7, 14, [17, 18, 22, 23, 25, 27, 31, 35, 37, 38, 40, 43, 45, 48, 55, 70, 100]),
                  (1, 5, 12, 100, 100, []),
                  (0.5, 5.5, 15, 100, 100, []),
                  (1, 7, 20, 100, 100, []),
                  (100, 100, 100, 100, 100, [4, 11, 15]),
                  (16, 16, 16, 16, 16, []),
                  (16, 16, 16, 16, 16, []),
                  (100, 100, 100, 100, 100, [19, 23, 35])],
    "Ideal": [(0.5, 1.5, 2.8, 5, 7, [7.5]),
              (0.5, 1.5, 3, 4.5, 7, [8, 9]),
              (0.5, 2.5, 4, 7, 13, [15, 17, 20, 22, 25]),
              (0.5, 2, 3.5, 5, 8, [9, 10, 11, 12, 13, 14, 15, 16, 17, 18, 19, 20, 21, 100]),
              (3, 9.5, 20, 100, 100, []),
              (2.5, 6.5, 12, 24, 48, [100]),
              (6.5, 17, 30.5, 100, 100, []),
              (100, 100, 100, 100, 100, [])],
    "ModAlBin": [(0.5, 1.5, 2.5, 3.5, 6, [8, 10]),
                 (0.5, 5, 6.5, 8, 12, [14, 15, 16, 18, 28]),
                 (0.5, 5, 8, 11.5, 20, [22, 24, 26, 28, 30]),
                 (0.5, 4, 6, 8, 12, [13, 15, 17, 18, 20]),
                 (4.5, 12.5, 20, 35, 55, [60, 80]),
                 (7.5, 28, 43.5, 71, 100, []),
                 (10.5, 26.5, 37, 55, 98, [99, 100]),
                 (100, 100, 100, 100, 100, [7, 29, 44, 53, 59, 66, 70, 77, 83, 87, 90, 94, 99])],
    "ModAlNegEps": [(0.5, 3.5, 6, 13.5, 27, [28, 29, 30, 32, 35, 37, 40, 43, 45, 48, 50, 52, 55, 57, 62, 67, 71, 73,
                                             89, 92, 95, 100]),
                    (0.5, 6.5, 18, 94, 100, []),
                    (1, 11, 30, 100, 100, []),
                    (3, 11, 22, 89.5, 100, []),
                    (100, 100, 100, 100, 100, []),
                    (100, 100, 100, 100, 100, [13, 15, 17, 19, 20, 22, 24, 26, 28, 30, 32, 35, 38, 40, 42, 45, 48,
                                               50, 70, 72, 78, 87]),
                    (100, 100, 100, 100, 100, [42]),
                    (100, 100, 100, 100, 100, [])],
}

# ---------------- row 3: counts per bin
louvain_counts = {
    "GulBin": [450, 470, 340, 305, 480, 165, 25, 450],
    "GulNegEps": [205, 380, 225, 300, 290, 10, 10, 400],
    "Ideal": [455, 500, 350, 325, 490, 195, 30, 500],
    "ModAlBin": [115, 195, 100, 200, 385, 75, 30, 300],
    "ModAlNegEps": [460, 495, 350, 305, 480, 190, 30, 500],
}
leiden_counts = {
    "GulBin": [450, 475, 330, 315, 460, 95, 145, 450],
    "GulNegEps": [210, 360, 225, 320, 305, 5, 10, 400],
    "Ideal": [455, 490, 335, 330, 455, 100, 150, 500],
    "ModAlBin": [115, 200, 80, 225, 380, 80, 25, 300],
    "ModAlNegEps": [465, 495, 320, 330, 465, 105, 130, 500],
}
label_prop_counts = {
    "GulBin": [1330, 0, 160, 170, 380, 330, 100, 210],
    "GulNegEps": [880, 0, 130, 150, 270, 100, 110, 220],
    "Ideal": [1340, 0, 170, 160, 390, 380, 120, 180],
    "ModAlBin": [600, 0, 60, 70, 320, 340, 60, 80],
    "ModAlNegEps": [1350, 0, 140, 150, 360, 390, 110, 190],
}
greedy_counts = {
    "GulBin": [495, 585, 400, 300, 260, 180, 65, 405],
    "GulNegEps": [235, 475, 345, 285, 100, 20, 20, 400],
    "Ideal": [510, 585, 435, 315, 270, 155, 115, 400],
    "ModAlBin": [130, 185, 200, 310, 175, 105, 140, 200],
    "ModAlNegEps": [505, 595, 425, 305, 265, 185, 120, 400],
}

points = [louvain_pts, leiden_pts, label_prop_pts, greedy_pts]
caps = [louvain_cap, leiden_cap, label_prop_cap, greedy_cap]
bins = [louvain_bins, leiden_bins, label_prop_bins, greedy_bins]
boxes = [louvain_box, leiden_box, label_prop_box, greedy_box]
counts = [louvain_counts, leiden_counts, label_prop_counts, greedy_counts]

sns.set_theme(style="whitegrid", palette="muted", context="notebook")
pal = sns.color_palette("muted", 5)
box_pal = [sns.desaturate(c, 0.75) for c in pal]
line_c = "#404040"

fig, axes = plt.subplots(3, 4, figsize=(20, 11.94), dpi=72.8)
fig.subplots_adjust(left=0.047, right=0.988, top=0.934, bottom=0.097, wspace=0.26, hspace=0.40)
fig.suptitle("WS: steps vs Modularity", fontsize=12, y=0.99)

for k, algo in enumerate(algos):
    # scatter
    ax = axes[0, k]
    for i, op in enumerate(ops):
        pts = np.array(points[k][op], dtype=float)
        ax.scatter(pts[:, 0], pts[:, 1] * 1000, s=36, color=pal[i], alpha=0.6,
                   edgecolor="white", linewidth=0.5, label=op, zorder=2)
    cx = np.array(caps[k])
    ax.scatter(cx, np.full(cx.shape, STEP_CAP * 1000), s=36, color=pal[4], alpha=0.6,
               edgecolor="white", linewidth=0.5, zorder=2)
    ax.set_title(algo)
    ax.set_xlabel("Modularity")
    ax.set_ylabel("Steps")
    ax.set_xticks([0.1, 0.2, 0.3, 0.4, 0.5, 0.6, 0.7] if k != 2 else [0.0, 0.1, 0.2, 0.3, 0.4, 0.5, 0.6, 0.7])
    ax.set_yticks([0, 20000, 40000, 60000, 80000, 100000])
    ax.set_ylim(-5000, 105000)
    if k == 3:
        handles = [Line2D([], [], marker="o", ls="", color=pal[i], alpha=0.6, markersize=5,
                          markeredgecolor="white") for i in range(5)]
        ax.legend(handles, ops, title="op_short", loc="center left", fontsize=11)

    # boxplots
    ax = axes[1, k]
    offs = [-0.32, -0.16, 0.0, 0.16, 0.32]
    for i, op in enumerate(ops):
        for j, t in enumerate(boxes[k][op]):
            lo, q1, med, q3, hi, fl = t
            st = dict(whislo=lo * 1000, q1=q1 * 1000, med=med * 1000, q3=q3 * 1000, whishi=hi * 1000,
                      fliers=np.array(fl, dtype=float) * 1000)
            ax.bxp([st], positions=[j + offs[i]], widths=0.15, patch_artist=True, showcaps=False,
                   boxprops=dict(facecolor=box_pal[i], edgecolor=line_c, linewidth=1),
                   medianprops=dict(color=line_c, linewidth=1),
                   whiskerprops=dict(color=line_c, linewidth=1),
                   flierprops=dict(marker="o", markerfacecolor="none", markeredgecolor=line_c,
                                   markersize=6, markeredgewidth=1))
    ax.set_xlim(-0.5, 7.5)
    ax.set_xticks(range(8))
    ax.set_xticklabels(bins[k], rotation=30)
    ax.xaxis.grid(False)
    ax.set_yticks([0, 20000, 40000, 60000, 80000, 100000])
    ax.set_ylim(-5000, 105000)
    ax.set_ylabel("Steps" if k == 0 else "")
    if k == 3:
        handles = [Patch(facecolor=box_pal[i], edgecolor=line_c) for i in range(5)]
        ax.legend(handles, ops, title="op_short", loc="center", fontsize=11)

    # stacked counts
    ax = axes[2, k]
    bottom = np.zeros(8)
    for i in [4, 3, 2, 1, 0]:
        c = np.array(counts[k][ops[i]], dtype=float)
        ax.bar(range(8), c, bottom=bottom, width=0.8, color=pal[i], alpha=0.75,
               edgecolor="white", linewidth=1, zorder=2)
        bottom += c
    ax.set_xticks(range(8))
    ax.set_xticklabels(bins[k], rotation=30)
    ax.set_xlim(-0.8, 7.8)
    ax.set_xlabel("Modularity (binned)")
    ax.set_ylabel("Count" if k == 0 else "")
    if k == 3:
        handles = [Patch(facecolor=pal[i], alpha=0.75) for i in range(5)]
        ax.legend(handles, ops, title="op_short", loc="upper right", fontsize=11)

fig.savefig("out.png", dpi=72.8)
